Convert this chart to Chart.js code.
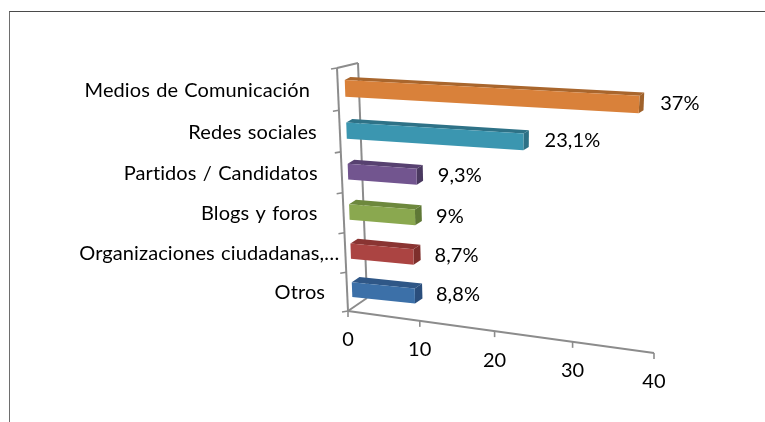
<!DOCTYPE html>
<html>
<head>
<meta charset="utf-8">
<script src="https://cdn.jsdelivr.net/npm/chart.js@4"></script>
<style>
    html, body { margin: 0; background: #fff; overflow: hidden; }
    #frame { position: absolute; left: 9px; top: 11px; width: 756px; height: 411px;
             border-top: 1.5px solid #4a4a4a; border-left: 1.5px solid #6e6e6e; box-sizing: border-box; }
    #chart { position: absolute; left: 0; top: 0; }
</style>
</head>
<body>
<div id="frame"></div>
<canvas id="chart" width="765" height="422"></canvas>
<script>
const categories = ['Medios de Comunicación', 'Redes sociales', 'Partidos / Candidatos', 'Blogs y foros', 'Organizaciones ciudadanas,…', 'Otros'];
const values = [37, 23.1, 9.3, 9, 8.7, 8.8];
const valueTicks = [0, 10, 20, 30, 40];

// front, top and side colours of each bar
const frontColors = ['#d9813a', '#3b96b0', '#72558f', '#8aa84f', '#ab4442', '#3c70a8'];
const topColors = ['#a9662d', '#2e7287', '#574170', '#6d883d', '#8a3432', '#2f5787'];
const sideColors = ['#a0622b', '#2d7186', '#4a3960', '#5f7836', '#7e2f2c', '#2a4e7c'];

// gap between each category label and the axis
const labelGaps = [28, 23, 24, 26, 6, 22];

// corners of the perspective planes: top left, top right, bottom right, bottom left
const barPlane = [[344.3, 67], [666, 83], [652, 340], [352.7, 308.5]];
const depthOffsets = [[5.5, -3], [4.5, -3], [6, -4], [8, -5.5]];
const axisPlane = [[337, 68], [660, 90], [654, 353], [348, 311]];
const wallTop = [358, 63];
const wallBottom = [367, 298];

const FONT = '20px Lato, "Open Sans", sans-serif';
const AXIS_COLOR = '#8c8c8c';

// unit square -> quad
function makeProjection(q) {
    const [[x0, y0], [x1, y1], [x2, y2], [x3, y3]] = q;
    const dx1 = x1 - x2, dy1 = y1 - y2, dx2 = x3 - x2, dy2 = y3 - y2;
    const sx = x0 - x1 + x2 - x3, sy = y0 - y1 + y2 - y3;
    const det = dx1 * dy2 - dx2 * dy1;
    const g = (sx * dy2 - dx2 * sy) / det;
    const h = (dx1 * sy - sx * dy1) / det;
    const a = x1 - x0 + g * x1, b = x3 - x0 + h * x3;
    const d = y1 - y0 + g * y1, e = y3 - y0 + h * y3;
    return (u, v) => {
        const w = g * u + h * v + 1;
        return [(a * u + b * v + x0) / w, (d * u + e * v + y0) / w];
    };
}

const front = makeProjection(barPlane);

// same point pushed back by the bar depth
function back(u, v) {
    const p = front(u, v);
    const [tl, tr, br, bl] = depthOffsets;
    const blend = k => (tl[k] * (1 - u) + tr[k] * u) * (1 - v) + (bl[k] * (1 - u) + br[k] * u) * v;
    return [p[0] + blend(0), p[1] + blend(1)];
}

function polygon(ctx, points, color) {
    ctx.beginPath();
    points.forEach((p, i) => i ? ctx.lineTo(p[0], p[1]) : ctx.moveTo(p[0], p[1]));
    ctx.closePath();
    ctx.fillStyle = color;
    ctx.fill();
}

function line(ctx, a, b) {
    ctx.beginPath();
    ctx.moveTo(a[0], a[1]);
    ctx.lineTo(b[0], b[1]);
    ctx.stroke();
}

const perspectivePlugin = {
    id: 'perspective',
    beforeDatasetsDraw(chart) {
        const ctx = chart.ctx;
        const area = chart.chartArea;
        const xScale = chart.scales.x;
        const yScale = chart.scales.y;
        const toU = px => (px - area.left) / area.width;
        const toV = py => (py - area.top) / area.height;
        const axis = makeProjection(axisPlane);

        ctx.save();
        ctx.strokeStyle = AXIS_COLOR;
        ctx.lineWidth = 2;

        // back wall and floor edge
        const origin = axis(0, 1);
        const top = axis(0, 0);
        line(ctx, top, wallTop);
        line(ctx, wallTop, wallBottom);
        line(ctx, origin, wallBottom);
        line(ctx, top, origin);
        line(ctx, origin, axis(1, 1));

        ctx.lineWidth = 1.6;
        for (let i = 0; i <= categories.length; i++) {
            const p = axis(0, toV(yScale.getPixelForValue(i - 0.5)));
            line(ctx, p, [p[0] - 6, p[1] + 1]);
        }

        ctx.font = FONT;
        ctx.letterSpacing = '0.1px';
        ctx.wordSpacing = '1px';
        ctx.fillStyle = '#000';
        ctx.textBaseline = 'middle';

        // value axis
        ctx.textAlign = 'center';
        xScale.ticks.forEach(t => {
            const p = axis(toU(xScale.getPixelForValue(t.value)), 1);
            line(ctx, p, [p[0], p[1] + 6]);
            ctx.fillText(t.label, p[0], p[1] + 29);
        });

        // category labels
        ctx.textAlign = 'right';
        categories.forEach((c, i) => {
            const p = axis(0, toV(yScale.getPixelForValue(i)));
            ctx.fillText(c, p[0] - labelGaps[i], p[1] + 1);
        });

        // bars, top one first
        chart.getDatasetMeta(0).data.forEach((bar, i) => {
            const u0 = toU(bar.base);
            const u1 = toU(bar.x);
            const v0 = toV(bar.y - bar.height / 2);
            const v1 = toV(bar.y + bar.height / 2);
            polygon(ctx, [back(u0, v0), back(u1, v0), front(u1, v0), front(u0, v0)], topColors[i]);
            polygon(ctx, [front(u1, v0), back(u1, v0), back(u1, v1), front(u1, v1)], sideColors[i]);
            polygon(ctx, [front(u0, v0), front(u1, v0), front(u1, v1), front(u0, v1)], frontColors[i]);

            const end = front(u1, toV(bar.y));
            ctx.textAlign = 'left';
            ctx.fillStyle = '#000';
            ctx.fillText(String(values[i]).replace('.', ',') + '%', end[0] + 21, end[1] - 1);
        });
        ctx.restore();

        // the flat bars are replaced by the ones above
        return false;
    }
};

new Chart(document.getElementById('chart'), {
    type: 'bar',
    data: {
        labels: categories,
        datasets: [{
            data: values,
            barPercentage: 0.39,
            categoryPercentage: 1
        }]
    },
    options: {
        indexAxis: 'y',
        responsive: false,
        animation: false,
        layout: { padding: 0 },
        plugins: {
            legend: { display: false },
            tooltip: { enabled: false }
        },
        scales: {
            x: {
                display: false,
                min: valueTicks[0],
                max: valueTicks[valueTicks.length - 1],
                ticks: { stepSize: 10 }
            },
            y: { display: false }
        }
    },
    plugins: [perspectivePlugin]
});
</script>
</body>
</html>
